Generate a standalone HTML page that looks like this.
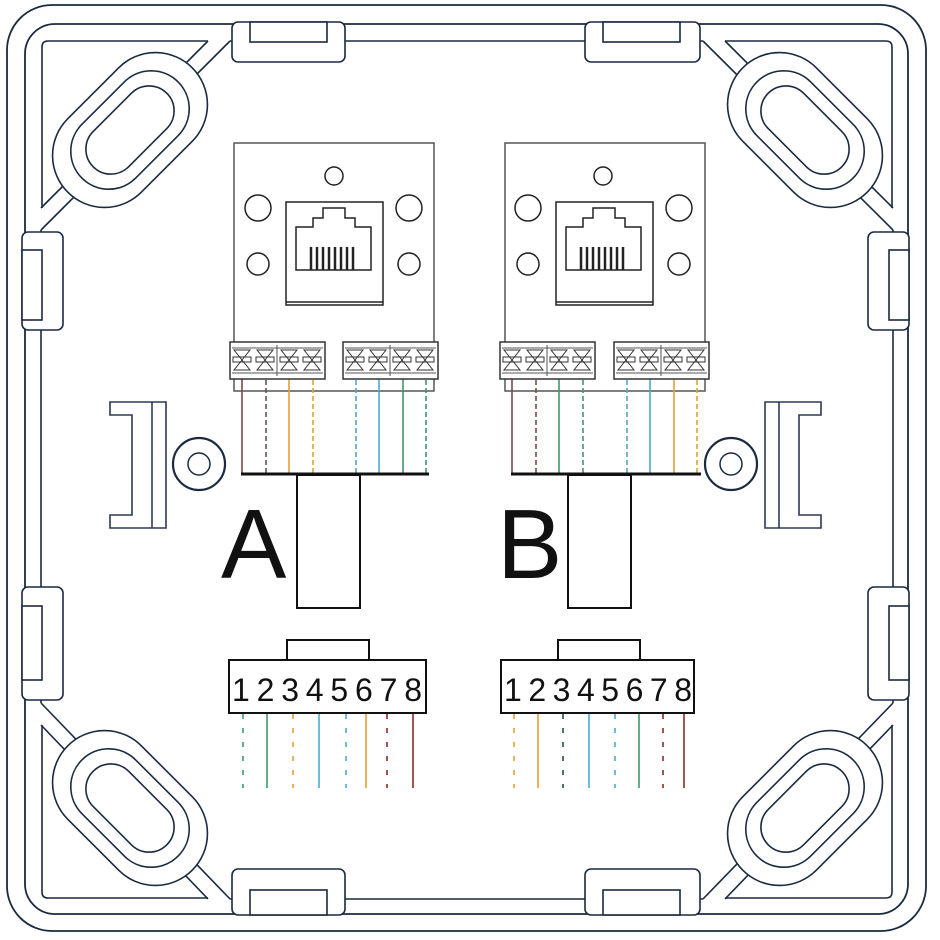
<!DOCTYPE html>
<html><head><meta charset="utf-8"><style>
html,body{margin:0;padding:0;background:#fff;}
svg{display:block;}
text{font-family:"Liberation Sans",sans-serif;}
</style></head><body>
<svg width="940" height="940" viewBox="0 0 940 940" xmlns="http://www.w3.org/2000/svg">
<defs>
<g id="tb">
<rect x="0" y="0" width="95" height="37" fill="#fff" stroke="#333" stroke-width="1.5"/>
<line x1="2" y1="6" x2="93" y2="6" stroke="#555" stroke-width="1"/>
<line x1="2" y1="31" x2="93" y2="31" stroke="#555" stroke-width="1"/>
<line x1="47" y1="3" x2="47" y2="34" stroke="#555" stroke-width="1"/>
<g fill="none" stroke="#333" stroke-width="1">
<polygon points="4,8 20,8 12,18 20,28 4,28 12,18"/><rect x="3" y="15" width="18" height="5"/>
<polygon points="27,8 43,8 35,18 43,28 27,28 35,18"/><rect x="26" y="15" width="18" height="5"/>
<polygon points="51,8 67,8 59,18 67,28 51,28 59,18"/><rect x="50" y="15" width="18" height="5"/>
<polygon points="74,8 90,8 82,18 90,28 74,28 82,18"/><rect x="73" y="15" width="18" height="5"/>
</g>
</g>
<g id="jack" fill="none" stroke="#222" stroke-width="1.5">
<rect x="0" y="0" width="97" height="103"/>
<line x1="0" y1="100" x2="97" y2="100"/>
<path d="M10,68 V25 H27 V16 H37 V6 H59 V16 H69 V25 H85 V68 Z"/>
<g stroke-width="2.5">
<line x1="25" y1="45" x2="25" y2="68"/><line x1="31" y1="45" x2="31" y2="68"/>
<line x1="37" y1="45" x2="37" y2="68"/><line x1="43" y1="45" x2="43" y2="68"/>
<line x1="49" y1="45" x2="49" y2="68"/><line x1="55" y1="45" x2="55" y2="68"/>
<line x1="61" y1="45" x2="61" y2="68"/><line x1="67" y1="45" x2="67" y2="68"/>
</g>
</g>
<g id="oval" fill="#fff" stroke="#1a2a40" stroke-width="1.6">
<rect x="-88" y="-52" width="176" height="104" rx="52"/>
<rect x="-68" y="-38" width="136" height="76" rx="38"/>
<rect x="-52" y="-25" width="104" height="50" rx="25"/>
</g>
</defs>

<!-- frame -->
<g fill="none" stroke="#1a2a40" stroke-width="1.8">
<rect x="7" y="5" width="919" height="926" rx="45"/>
<rect x="25" y="24" width="883" height="890" rx="30"/>
</g>
<g fill="none" stroke="#1a2a40" stroke-width="1.6">
<line x1="230" y1="41" x2="703" y2="41"/>
<line x1="230" y1="899" x2="703" y2="899"/>
<line x1="41" y1="230" x2="41" y2="703"/>
<line x1="893" y1="230" x2="893" y2="703"/>
<!-- ribs -->
<line x1="208" y1="41" x2="41" y2="208"/><line x1="230" y1="41" x2="41" y2="230"/>
<line x1="725" y1="41" x2="893" y2="208"/><line x1="703" y1="41" x2="893" y2="230"/>
<line x1="41" y1="703" x2="230" y2="899"/><line x1="41" y1="725" x2="208" y2="899"/>
<line x1="893" y1="703" x2="703" y2="899"/><line x1="893" y1="725" x2="725" y2="899"/>
<!-- corner triangles -->
<path d="M208,41 H48 Q42,41 42,47 V208"/>
<path d="M725,41 H886 Q892,41 892,47 V208"/>
<path d="M42,725 V892 Q42,898 48,898 H208"/>
<path d="M892,725 V892 Q892,898 886,898 H725"/>
</g>
<!-- ovals -->
<use href="#oval" transform="translate(130,130) rotate(-45)"/>
<use href="#oval" transform="translate(805,130) rotate(45)"/>
<use href="#oval" transform="translate(130,808) rotate(45)"/>
<use href="#oval" transform="translate(805,808) rotate(-45)"/>

<!-- tabs -->
<g fill="#fff" stroke="#1a2a40" stroke-width="1.6">
<rect x="232" y="22" width="113" height="40" rx="6"/><rect x="250" y="22" width="77" height="20"/>
<rect x="585" y="22" width="115" height="40" rx="6"/><rect x="603" y="22" width="77" height="20"/>
<rect x="232" y="869" width="113" height="46" rx="6"/><rect x="250" y="890" width="77" height="25"/>
<rect x="585" y="869" width="115" height="46" rx="6"/><rect x="603" y="890" width="77" height="25"/>
<rect x="22" y="232" width="41" height="98" rx="6"/><rect x="22" y="250" width="20" height="70"/>
<rect x="22" y="587" width="41" height="113" rx="6"/><rect x="22" y="606" width="20" height="74"/>
<rect x="868" y="232" width="41" height="98" rx="6"/><rect x="889" y="250" width="20" height="70"/>
<rect x="868" y="587" width="41" height="113" rx="6"/><rect x="889" y="606" width="20" height="74"/>
</g>

<!-- side brackets -->
<g fill="none" stroke="#2a3a55" stroke-width="1.6">
<path d="M110,402 H166 V528 H110 V515 H132 V415 H110 Z"/><line x1="152" y1="402" x2="152" y2="528"/>
<path d="M821,402 H765 V528 H821 V515 H799 V415 H821 Z"/><line x1="779" y1="402" x2="779" y2="528"/>
</g>
<g fill="none" stroke="#1a2a40">
<circle cx="199" cy="464" r="26" stroke-width="2.2"/><circle cx="199" cy="464" r="11" stroke-width="1.5"/>
<circle cx="731" cy="464" r="26" stroke-width="2.2"/><circle cx="731" cy="464" r="11" stroke-width="1.5"/>
</g>

<!-- module A -->
<rect x="234" y="143" width="200" height="248" fill="none" stroke="#555" stroke-width="1.5"/>
<g fill="none" stroke="#222" stroke-width="1.5">
<circle cx="334" cy="176" r="9"/><circle cx="258" cy="208" r="13"/><circle cx="409" cy="208" r="13"/>
<circle cx="258" cy="264" r="11"/><circle cx="409" cy="264" r="11"/>
</g>
<use href="#jack" transform="translate(286,202)"/>
<g stroke-width="1.6" fill="none">
<line x1="242" y1="372" x2="242" y2="473" stroke="#7a4a4a"/>
<line x1="266" y1="372" x2="266" y2="473" stroke="#7a4a4a" stroke-dasharray="5,3"/>
<line x1="289" y1="372" x2="289" y2="473" stroke="#e8a030"/>
<line x1="313" y1="372" x2="313" y2="473" stroke="#e8a030" stroke-dasharray="5,3"/>
<line x1="356" y1="372" x2="356" y2="473" stroke="#4aaad0" stroke-dasharray="5,3"/>
<line x1="379" y1="372" x2="379" y2="473" stroke="#4aaad0"/>
<line x1="403" y1="372" x2="403" y2="473" stroke="#3a9a6a"/>
<line x1="426" y1="372" x2="426" y2="473" stroke="#3a9a6a" stroke-dasharray="5,3"/>
</g>
<use href="#tb" transform="translate(230,342)"/>
<use href="#tb" transform="translate(343,342)"/>
<line x1="241" y1="474" x2="429" y2="474" stroke="#111" stroke-width="3"/>
<rect x="297" y="475" width="63" height="133" fill="none" stroke="#111" stroke-width="2"/>
<text x="221" y="578" font-size="98" fill="#111">A</text>

<!-- module B -->
<rect x="505" y="143" width="200" height="248" fill="none" stroke="#555" stroke-width="1.5"/>
<g fill="none" stroke="#222" stroke-width="1.5">
<circle cx="603" cy="176" r="9"/><circle cx="528" cy="208" r="13"/><circle cx="679" cy="208" r="13"/>
<circle cx="528" cy="264" r="11"/><circle cx="679" cy="264" r="11"/>
</g>
<use href="#jack" transform="translate(556,202)"/>
<g stroke-width="1.6" fill="none">
<line x1="512" y1="372" x2="512" y2="473" stroke="#7a4a4a"/>
<line x1="536" y1="372" x2="536" y2="473" stroke="#7a4a4a" stroke-dasharray="5,3"/>
<line x1="559" y1="372" x2="559" y2="473" stroke="#3a9a6a"/>
<line x1="583" y1="372" x2="583" y2="473" stroke="#3a9a6a" stroke-dasharray="5,3"/>
<line x1="627" y1="372" x2="627" y2="473" stroke="#4aaad0" stroke-dasharray="5,3"/>
<line x1="650" y1="372" x2="650" y2="473" stroke="#4aaad0"/>
<line x1="674" y1="372" x2="674" y2="473" stroke="#e8a030"/>
<line x1="697" y1="372" x2="697" y2="473" stroke="#e8a030" stroke-dasharray="5,3"/>
</g>
<use href="#tb" transform="translate(500,342)"/>
<use href="#tb" transform="translate(614,342)"/>
<line x1="511" y1="474" x2="701" y2="474" stroke="#111" stroke-width="3"/>
<rect x="568" y="475" width="63" height="133" fill="none" stroke="#111" stroke-width="2"/>
<text x="497" y="578" font-size="98" fill="#111">B</text>

<!-- connectors -->
<g fill="#fff" stroke="#111" stroke-width="2">
<rect x="287" y="640" width="82" height="20"/>
<rect x="229" y="660" width="197" height="53"/>
<rect x="558" y="640" width="82" height="20"/>
<rect x="501" y="660" width="193" height="53"/>
</g>
<text x="232" y="701" font-size="32" fill="#111" textLength="190" lengthAdjust="spacing">12345678</text>
<text x="504" y="701" font-size="32" fill="#111" textLength="188" lengthAdjust="spacing">12345678</text>
<g stroke-width="1.6" fill="none">
<line x1="243" y1="714" x2="243" y2="788" stroke="#3a9a6a" stroke-dasharray="5,9"/>
<line x1="267" y1="714" x2="267" y2="788" stroke="#3a9a6a"/>
<line x1="293" y1="714" x2="293" y2="788" stroke="#e8a030" stroke-dasharray="5,9"/>
<line x1="319" y1="714" x2="319" y2="788" stroke="#4aaad0"/>
<line x1="346" y1="714" x2="346" y2="788" stroke="#4aaad0" stroke-dasharray="5,9"/>
<line x1="366" y1="714" x2="366" y2="788" stroke="#e8a030"/>
<line x1="387" y1="714" x2="387" y2="788" stroke="#8a2a2a" stroke-dasharray="5,9"/>
<line x1="413" y1="714" x2="413" y2="788" stroke="#8a2a2a"/>
<line x1="514" y1="714" x2="514" y2="788" stroke="#e8a030" stroke-dasharray="5,9"/>
<line x1="538" y1="714" x2="538" y2="788" stroke="#e8a030"/>
<line x1="563" y1="714" x2="563" y2="788" stroke="#1a5a3a" stroke-dasharray="5,9"/>
<line x1="589" y1="714" x2="589" y2="788" stroke="#4aaad0"/>
<line x1="615" y1="714" x2="615" y2="788" stroke="#4aaad0" stroke-dasharray="5,9"/>
<line x1="639" y1="714" x2="639" y2="788" stroke="#3a9a6a"/>
<line x1="663" y1="714" x2="663" y2="788" stroke="#8a2a2a" stroke-dasharray="5,9"/>
<line x1="684" y1="714" x2="684" y2="788" stroke="#8a2a2a"/>
</g>
</svg>
</body></html>
